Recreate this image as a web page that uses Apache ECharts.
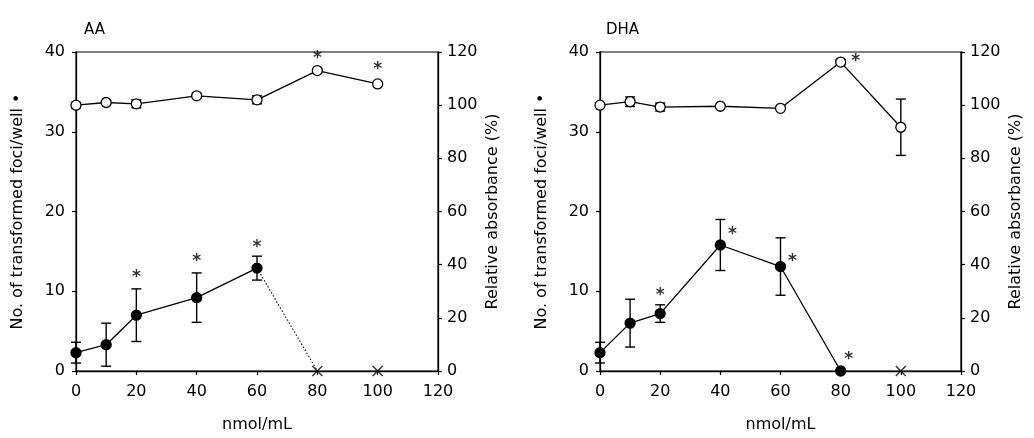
<!DOCTYPE html>
<html>
<head>
<meta charset="utf-8">
<script src="https://cdn.jsdelivr.net/npm/echarts@6/dist/echarts.min.js"></script>
<style>
  html, body { margin: 0; background: #fff; }
  #chart { width: 1034px; height: 438px; }
</style>
</head>
<body>
<div id="chart"></div>
<script>
// doses (nmol/mL)
const doses = [0, 10, 20, 40, 60, 80, 100];

// AA panel
const aaFoci = [2.3, 3.3, 7.0, 9.2, 12.9];          // doses 0..60
const aaFociErr = [1.3, 2.7, 3.3, 3.1, 1.5];
const aaAbs = [100, 101, 100.5, 103.5, 102, 113, 108];
const aaAbsErr = [1, 0, 1.5, 0, 1.5, 0, 0];
const aaNoFoci = [80, 100];                          // marked with x (no cells)
const aaFociStars = [20, 40, 60];
const aaAbsStars = [80, 100];

// DHA panel
const dhaFoci = [2.3, 6.0, 7.2, 15.8, 13.1, 0];      // doses 0..80
const dhaFociErr = [1.3, 3.0, 1.1, 3.2, 3.6, 0];
const dhaAbs = [100, 101.3, 99.3, 99.6, 98.8, 116.2, 91.7];
const dhaAbsErr = [0, 1.8, 1.5, 0, 0, 1, 10.6];
const dhaNoFoci = [100];
const dhaFociStars = [20, 40, 60, 80];
const dhaAbsStars = [80];

const FONT = 'DejaVu Sans, Verdana, sans-serif';
const chart = echarts.init(document.getElementById('chart'));

function pairs(vals) {
  return vals.map((v, i) => [doses[i], v]);
}

function errData(vals, errs) {
  return vals.map((v, i) => [doses[i], v - errs[i], v + errs[i]]).filter((d, i) => errs[i] > 0);
}

function renderErr(params, api) {
  const x = api.value(0);
  const lo = api.coord([x, api.value(1)]);
  const hi = api.coord([x, api.value(2)]);
  const w = 5;
  const st = { stroke: '#000', lineWidth: 1.4 };
  return {
    type: 'group',
    children: [
      { type: 'line', shape: { x1: lo[0], y1: lo[1], x2: hi[0], y2: hi[1] }, style: st },
      { type: 'line', shape: { x1: lo[0] - w, y1: lo[1], x2: lo[0] + w, y2: lo[1] }, style: st },
      { type: 'line', shape: { x1: hi[0] - w, y1: hi[1], x2: hi[0] + w, y2: hi[1] }, style: st }
    ]
  };
}

function errSeries(vals, errs, xi, yi) {
  return {
    type: 'custom', xAxisIndex: xi, yAxisIndex: yi, z: 1,
    renderItem: renderErr, data: errData(vals, errs), silent: true
  };
}

// stars: y taken from data (plus error when given), offsets are label styling
function starSeries(xs, vals, errs, xi, yi, offsets) {
  const data = xs.map((x, k) => {
    const i = doses.indexOf(x);
    const y = vals[i] + (errs ? errs[i] : 0);
    return { value: [x, y], label: { offset: offsets[k] } };
  });
  return {
    type: 'scatter', xAxisIndex: xi, yAxisIndex: yi, z: 5,
    symbol: 'circle', symbolSize: 1, itemStyle: { color: 'rgba(0,0,0,0)' },
    label: {
      show: true, position: 'inside', formatter: '*', color: '#000',
      fontSize: 17, fontWeight: 'bold', fontFamily: FONT
    },
    data: data, silent: true
  };
}

function crossSeries(xs, xi, yi) {
  return {
    type: 'scatter', xAxisIndex: xi, yAxisIndex: yi, z: 4,
    symbol: 'path://M0,0L10,10M0,10L10,0', symbolSize: 10,
    itemStyle: { color: 'none', borderColor: '#000', borderWidth: 1.4 },
    data: xs.map(x => [x, 0]), silent: true
  };
}

function lineSeries(data, xi, yi, filled, dotted) {
  return {
    type: 'line', xAxisIndex: xi, yAxisIndex: yi, z: 3,
    data: data,
    symbol: dotted ? 'none' : 'circle', symbolSize: 10, showSymbol: !dotted,
    lineStyle: { color: '#000', width: dotted ? 1.1 : 1.3, type: dotted ? [1.5, 2] : 'solid' },
    itemStyle: { color: filled ? '#000' : '#fff', borderColor: '#000', borderWidth: 1.3 },
    animation: false
  };
}

const axisTxt = { color: '#000', fontSize: 16, fontFamily: FONT };
const nameTxt = { color: '#000', fontSize: 16, fontFamily: FONT };
const axisLine = { show: true, lineStyle: { color: '#000', width: 1.3 } };
const axisTick = { show: true, length: 4, lineStyle: { color: '#000', width: 1.2 } };

function xAxis(gi) {
  return {
    type: 'value', gridIndex: gi, min: 0, max: 120, interval: 20,
    name: 'nmol/mL', nameLocation: 'middle', nameGap: 46, nameTextStyle: nameTxt,
    axisLine: axisLine, axisTick: axisTick, axisLabel: Object.assign({ margin: 13 }, axisTxt),
    splitLine: { show: false }
  };
}
function yLeft(gi) {
  return {
    type: 'value', gridIndex: gi, min: 0, max: 40, interval: 10, position: 'left',
    name: 'No. of transformed foci/well \u2022', nameLocation: 'middle', nameGap: 50, nameTextStyle: nameTxt,
    axisLine: axisLine, axisTick: axisTick, axisLabel: Object.assign({ margin: 11 }, axisTxt),
    splitLine: { show: false }
  };
}
function yRight(gi) {
  return {
    type: 'value', gridIndex: gi, min: 0, max: 120, interval: 20, position: 'right',
    name: 'Relative absorbance (%)', nameLocation: 'middle', nameGap: 47, nameTextStyle: nameTxt,
    axisLine: axisLine, axisTick: axisTick, axisLabel: Object.assign({ margin: 9 }, axisTxt),
    splitLine: { show: false }
  };
}

const titleTxt = { color: '#000', fontSize: 15, fontWeight: 'normal', fontFamily: FONT };

const option = {
  animation: false,
  backgroundColor: '#fff',
  title: [
    { text: 'AA', left: 79, top: 18, textStyle: titleTxt },
    { text: 'DHA', left: 601, top: 18, textStyle: titleTxt }
  ],
  grid: [
    { left: 76, top: 52, width: 362, height: 326, show: true, borderColor: '#000', borderWidth: 1.2 },
    { left: 600, top: 52, width: 361, height: 326, show: true, borderColor: '#000', borderWidth: 1.2 }
  ],
  xAxis: [xAxis(0), xAxis(1)],
  yAxis: [yLeft(0), yRight(0), yLeft(1), yRight(1)],
  series: [
    // AA
    errSeries(aaFoci, aaFociErr, 0, 0),
    errSeries(aaAbs, aaAbsErr, 0, 1),
    lineSeries([[doses[4], aaFoci[4]], [aaNoFoci[0], 0]], 0, 0, true, true),
    lineSeries(pairs(aaFoci), 0, 0, true, false),
    lineSeries(pairs(aaAbs), 0, 1, false, false),
    crossSeries(aaNoFoci, 0, 0),
    starSeries(aaFociStars, aaFoci, aaFociErr, 0, 0, [[0, -11], [0, -11], [0, -9]]),
    starSeries(aaAbsStars, aaAbs, null, 0, 1, [[0, -12], [0, -14]]),
    // DHA
    errSeries(dhaFoci, dhaFociErr, 1, 2),
    errSeries(dhaAbs, dhaAbsErr, 1, 3),
    lineSeries(pairs(dhaFoci), 1, 2, true, false),
    lineSeries(pairs(dhaAbs), 1, 3, false, false),
    crossSeries(dhaNoFoci, 1, 2),
    starSeries(dhaFociStars, dhaFoci, [0, 0, dhaFociErr[2], 0, 0, 0], 1, 2, [[0, -9], [12, -10], [12, -5], [8, -11]]),
    starSeries(dhaAbsStars, dhaAbs, null, 1, 3, [[15, -1]])
  ]
};

chart.setOption(option);
window.addEventListener('resize', function () { chart.resize(); });
</script>
</body>
</html>
